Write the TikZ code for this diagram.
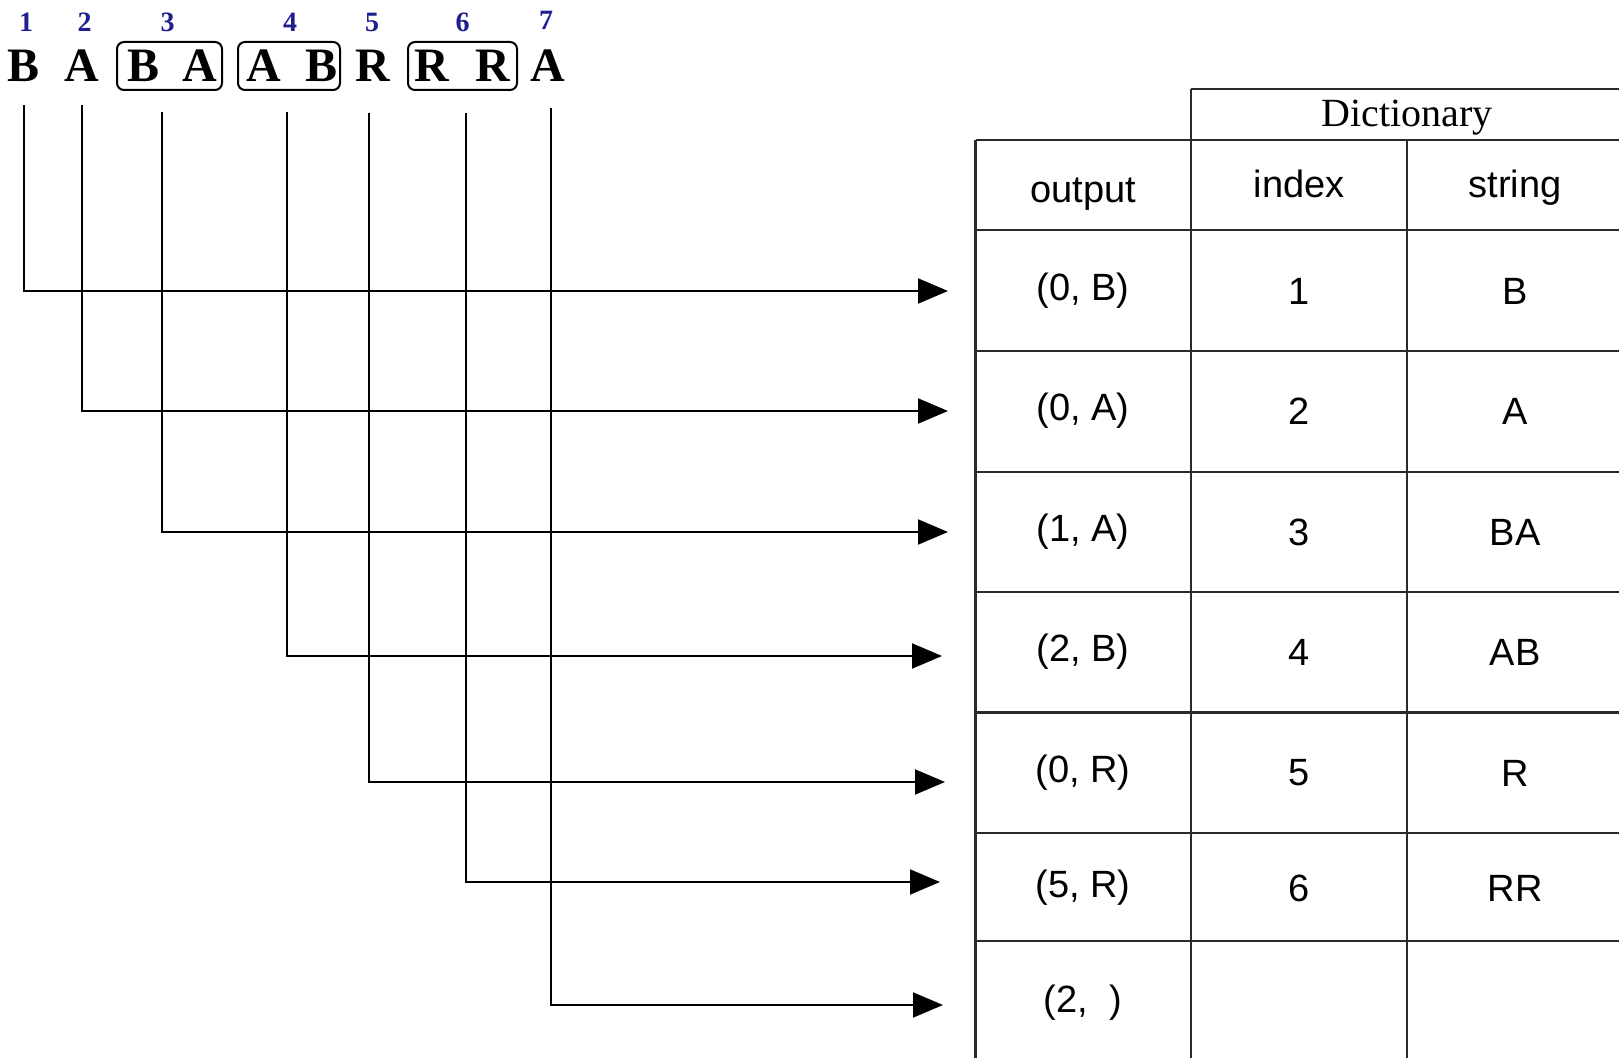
\documentclass[tikz,border=0pt]{standalone}
\usepackage{fontspec}
\setmainfont{Liberation Serif}
\newfontfamily\tablefont{Liberation Sans}
\usetikzlibrary{arrows.meta}
\definecolor{seqblue}{HTML}{1F1F8F}
\definecolor{rulegray}{HTML}{2A2A2A}

\begin{document}
\begin{tikzpicture}[x=0.5pt, y=-0.5pt, line width=1pt,
    sym/.style={inner sep=0pt, font=\fontsize{24}{28}\selectfont\bfseries},
    pairbox/.style={sym, draw, rounded corners=3.5pt, minimum height=24pt},
    num/.style={inner sep=0pt, text=seqblue, font=\fontsize{14}{16}\selectfont\bfseries},
    cell/.style={inner sep=0pt, font=\tablefont\fontsize{19}{22}\selectfont},
    rule/.style={draw=rulegray, line width=1.1pt},
    flow/.style={-{Triangle[length=15pt, width=12.5pt]}}]
      \useasboundingbox (0,0) rectangle (1619,1058);

      % input string and its phrases
      \node[sym] (c1) at (24,66) {B};
      \node[sym] (c2) at (82,66) {A};
      \node[pairbox, minimum width=52.5pt] (c3) at (169.5,66) {\hspace{3pt}B\hspace{11.8pt}A};
      \node[pairbox, minimum width=51pt] (c4) at (289,66) {\hspace{3pt}A\hspace{12.6pt}B};
      \node[sym] (c5) at (373,66) {R};
      \node[pairbox, minimum width=54.5pt] (c6) at (462.5,66) {R\hspace{13.2pt}R};
      \node[sym] (c7) at (548,66) {A};

      \node[num] (n1) at (26,22.5) {1};
      \node[num] (n2) at (84.5,22.5) {2};
      \node[num] (n3) at (167.5,22.5) {3};
      \node[num] (n4) at (290,22.5) {4};
      \node[num] (n5) at (372,22.5) {5};
      \node[num] (n6) at (462.5,22.5) {6};
      \node[num] (n7) at (546,20) {7};

      % table rules
      \draw[rule] (1191,89) -- (1619,89);
      \draw[rule] (975.5,140) -- (1619,140);
      \draw[rule] (975.5,230) -- (1619,230);
      \draw[rule] (975.5,351) -- (1619,351);
      \draw[rule] (975.5,472) -- (1619,472);
      \draw[rule] (975.5,592) -- (1619,592);
      \draw[rule] (975.5,712.5) -- (1619,712.5);
      \draw[rule] (975.5,833) -- (1619,833);
      \draw[rule] (975.5,941) -- (1619,941);
      \draw[rule] (975.5,140) -- (975.5,1058);
      \draw[rule] (1191,89) -- (1191,1058);
      \draw[rule] (1407,140) -- (1407,1058);

      \node[anchor=base, font=\fontsize{20}{24}\selectfont] (dict) at (1407,127) {Dictionary};
      \node[cell, anchor=base] (hout) at (1083,203) {output};
      \node[cell, anchor=base] (hidx) at (1299,198) {index};
      \node[cell, anchor=base] (hstr) at (1515,198) {string};

      \node[cell] (out1) at (1083,291) {(0, B)};
      \node[cell] (idx1) at (1299,291) {1};
      \node[cell] (str1) at (1515,291) {B};
      \node[cell] (out2) at (1083,411) {(0, A)};
      \node[cell] (idx2) at (1299,411) {2};
      \node[cell] (str2) at (1515,411) {A};
      \node[cell] (out3) at (1083,532) {(1, A)};
      \node[cell] (idx3) at (1299,532) {3};
      \node[cell] (str3) at (1515,532) {BA};
      \node[cell] (out4) at (1083,652) {(2, B)};
      \node[cell] (idx4) at (1299,652) {4};
      \node[cell] (str4) at (1515,652) {AB};
      \node[cell] (out5) at (1083,773) {(0, R)};
      \node[cell] (idx5) at (1299,773) {5};
      \node[cell] (str5) at (1515,773) {R};
      \node[cell] (out6) at (1083,888) {(5, R)};
      \node[cell] (idx6) at (1299,888) {6};
      \node[cell] (str6) at (1515,888) {RR};
      \node[cell] (out7) at (1083,1003) {(2,\ \ )};

      % where each phrase goes
      \coordinate (t1) at (24,105);
      \coordinate (t2) at (81.7,105);
      \coordinate (t3) at (162,112);
      \coordinate (t4) at (287,112);
      \coordinate (t5) at (368.6,113);
      \coordinate (t6) at (465.6,113);
      \coordinate (t7) at (550.5,108);
      \coordinate (e1) at (948,291);
      \coordinate (e2) at (948,411);
      \coordinate (e3) at (948,532);
      \coordinate (e4) at (942,656);
      \coordinate (e5) at (945,782);
      \coordinate (e6) at (940,882);
      \coordinate (e7) at (943,1005);

      \draw[flow] (t1) |- (e1);
      \draw[flow] (t2) |- (e2);
      \draw[flow] (t3) |- (e3);
      \draw[flow] (t4) |- (e4);
      \draw[flow] (t5) |- (e5);
      \draw[flow] (t6) |- (e6);
      \draw[flow] (t7) |- (e7);
    \end{tikzpicture}
\end{document}
